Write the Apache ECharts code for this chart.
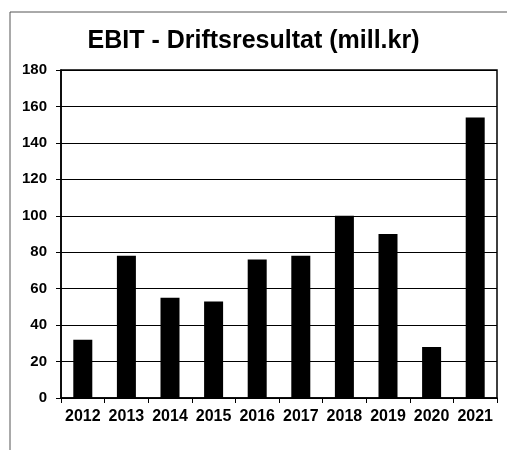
<!DOCTYPE html>
<html>
<head>
<meta charset="utf-8">
<script src="https://cdn.jsdelivr.net/npm/echarts@6/dist/echarts.min.js"></script>
<style>
  html, body { margin: 0; padding: 0; background: #fff; }
  #chart { width: 507px; height: 450px; }
</style>
</head>
<body>
<div id="chart"></div>
<script>
var years = ['2012', '2013', '2014', '2015', '2016', '2017', '2018', '2019', '2020', '2021']
var ebit = [32, 78, 55, 53, 76, 78, 100, 90, 28, 154]
var titleText = 'EBIT - Driftsresultat (mill.kr)'

var chart = echarts.init(document.getElementById('chart'))
var font = '"Liberation Sans", Arial, sans-serif'

var option = {
  backgroundColor: '#fff',
  animation: false,
  title: {
    text: titleText,
    left: 'center',
    top: 24,
    textStyle: { fontFamily: font, fontSize: 25, fontWeight: 'bold', color: '#000' }
  },
  graphic: [
    { type: 'line', shape: { x1: 10, y1: 12, x2: 507, y2: 12 }, style: { stroke: '#555', lineWidth: 1 } },
    { type: 'line', shape: { x1: 10, y1: 12, x2: 10, y2: 450 }, style: { stroke: '#555', lineWidth: 1 } }
  ],
  grid: {
    left: 61,
    right: 10,
    top: 70,
    bottom: 52,
    show: true,
    borderColor: '#000',
    borderWidth: 1.5
  },
  xAxis: {
    type: 'category',
    data: years,
    axisLine: { lineStyle: { color: '#000', width: 1.5 } },
    axisTick: { show: true, inside: false, length: 5, alignWithLabel: false, lineStyle: { color: '#000' } },
    axisLabel: { color: '#000', fontFamily: font, fontSize: 16, fontWeight: 'bold', margin: 11, interval: 0 }
  },
  yAxis: {
    type: 'value',
    min: 0,
    max: 180,
    interval: 20,
    axisLine: { show: true, lineStyle: { color: '#000', width: 1.5 } },
    axisTick: { show: true, length: 5, lineStyle: { color: '#000' } },
    axisLabel: { color: '#000', fontFamily: font, fontSize: 15, fontWeight: 'bold', margin: 14 },
    splitLine: { show: true, lineStyle: { color: '#000', width: 1 } }
  },
  series: [{
    type: 'bar',
    data: ebit,
    barWidth: 19,
    itemStyle: { color: '#000' }
  }]
}
chart.setOption(option)
</script>
</body>
</html>
